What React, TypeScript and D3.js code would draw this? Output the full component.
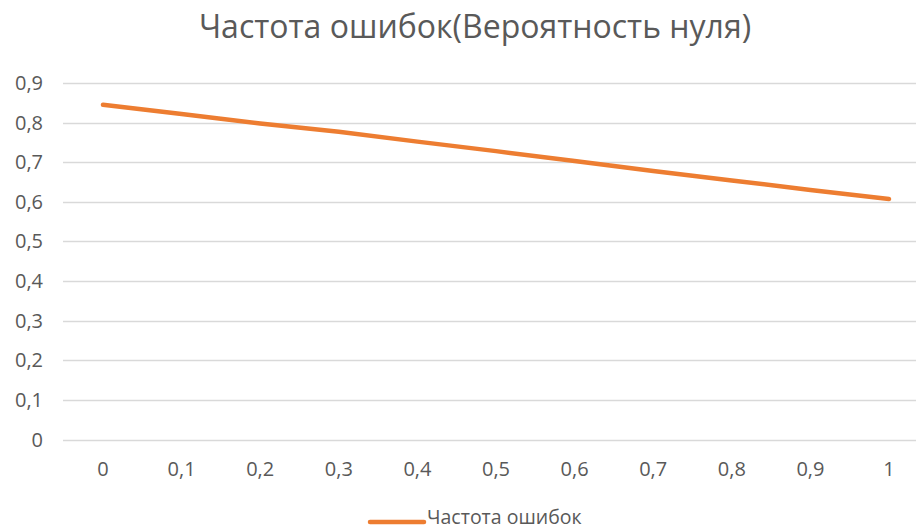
import React from "react";
import * as d3 from "d3";

const title = "Частота ошибок(Вероятность нуля)";
const seriesName = "Частота ошибок";
const categories = ["0", "0,1", "0,2", "0,3", "0,4", "0,5", "0,6", "0,7", "0,8", "0,9", "1"];
const values = [0.845, 0.822, 0.798, 0.777, 0.752, 0.728, 0.703, 0.678, 0.654, 0.63, 0.607];
const yTicks = [0, 0.1, 0.2, 0.3, 0.4, 0.5, 0.6, 0.7, 0.8, 0.9];

const W = 916;
const H = 530;
const FONT = "'Open Sans', 'Noto Sans', sans-serif";

export default function App() {
  const x = d3.scalePoint<string>().domain(categories).range([103, 889]);
  const y = d3.scaleLinear().domain([0, 0.9]).range([439.5, 83]);
  const fmt = (v: number) => (v === 0 ? "0" : d3.format(".1f")(v).replace(".", ","));
  const line = d3
    .line<number>()
    .x((_, i) => x(categories[i]) as number)
    .y((d) => y(d));

  return (
    <div style={{ position: "fixed", left: 0, top: 0 }}>
      <svg width={W} height={H} style={{ display: "block", background: "#fff" }}>
        <text x={475} y={38} textAnchor="middle" fontFamily={FONT} fontSize={32} fill="#595959">
          {title}
        </text>
        {yTicks.map((t) => (
          <g key={t}>
            <line x1={63} x2={W} y1={Math.round(y(t)) + 0.5} y2={Math.round(y(t)) + 0.5} stroke="#d9d9d9" strokeWidth={1.3} />
            <text x={43} y={y(t)} dy="0.35em" textAnchor="end" fontFamily={FONT} fontSize={20} fill="#595959">
              {fmt(t)}
            </text>
          </g>
        ))}
        {categories.map((c) => (
          <text key={c} x={x(c)} y={469} dy="0.35em" textAnchor="middle" fontFamily={FONT} fontSize={20} fill="#595959">
            {c}
          </text>
        ))}
        <path d={line(values) || ""} fill="none" stroke="#ED7D31" strokeWidth={4.5} strokeLinecap="round" strokeLinejoin="round" />
        <line x1={370} x2={424} y1={522} y2={522} stroke="#ED7D31" strokeWidth={4.5} strokeLinecap="round" />
        <text x={427} y={524} fontFamily={FONT} fontSize={19.5} fill="#595959">
          {seriesName}
        </text>
      </svg>
    </div>
  );
}
